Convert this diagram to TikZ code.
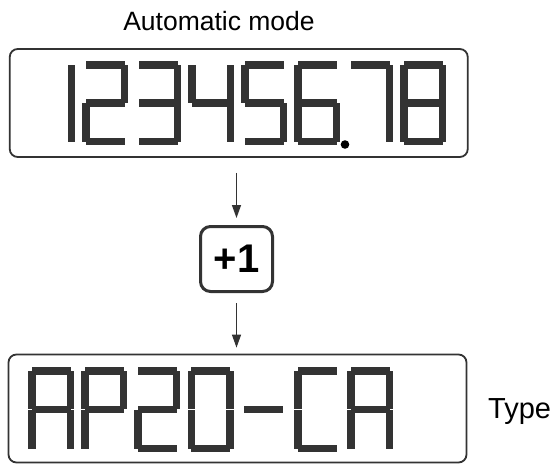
\documentclass[tikz,border=0pt]{standalone}
\usepackage{fontspec}
\setmainfont{Liberation Sans}
\usetikzlibrary{arrows.meta}
\definecolor{segc}{HTML}{333333}
\definecolor{linec}{HTML}{333333}
\newcommand{\sW}{46}
\newcommand{\sH}{84}
\newcommand{\st}{7.5}
\newcommand{\sn}{3.5}
\newcommand{\sgA}{\fill[segc] (\sn,0) rectangle ({\sW-\sn},\st);}
\newcommand{\sgB}{\fill[segc] ({\sW-\st},\sn) rectangle (\sW,{\sH/2-0.25});}
\newcommand{\sgC}{\fill[segc] ({\sW-\st},{\sH/2+0.25}) rectangle (\sW,{\sH-\sn});}
\newcommand{\sgD}{\fill[segc] (\sn,{\sH-\st}) rectangle ({\sW-\sn},\sH);}
\newcommand{\sgE}{\fill[segc] (0,{\sH/2+0.25}) rectangle (\st,{\sH-\sn});}
\newcommand{\sgF}{\fill[segc] (0,\sn) rectangle (\st,{\sH/2-0.25});}
\newcommand{\sgG}{\fill[segc] (\sn,{\sH/2-\st/2}) rectangle ({\sW-\sn},{\sH/2+\st/2});}
\newcommand{\digitat}[3]{\begin{scope}[shift={(#1,#2)}]#3\end{scope}}
\begin{document}
\begin{tikzpicture}[x=1pt,y=-1pt,
  disp/.style={draw=linec, line width=1.8pt, rounded corners=8pt, minimum width=458pt, minimum height=108pt, inner sep=0pt},
  plusbox/.style={draw=linec, line width=3pt, rounded corners=10pt, minimum width=72pt, minimum height=65pt, inner sep=0pt, font=\fontsize{40}{44}\selectfont\bfseries},
  arr/.style={draw=linec, line width=1.3pt, -{Triangle[width=9pt,length=13pt]}},
  lbl/.style={font=\fontsize{26.5}{30}\selectfont, inner sep=0pt}]
\useasboundingbox (0,0) rectangle (553,464);
\fill[white] (0,0) rectangle (553,464);

\node[lbl] (title) at (219,21) {Automatic mode};
\node[disp] (disp1) at (238.75,103) {};
\node[plusbox] (plus) at (236.5,259) {+1};
\node[disp] (disp2) at (237.5,408.5) {};
\node[lbl, anchor=west, font=\fontsize{29}{32}\selectfont] (type) at (488,412) {Type};

\draw[arr, shorten <=15pt, shorten >=7pt] (disp1.south -| plus.north) -- (plus.north);
\draw[arr, shorten <=10pt, shorten >=6pt] (plus.south) -- (disp2.north -| plus.south);

% top display 12345678
\digitat{29}{61}{\sgB\sgC}
\digitat{82}{61}{\sgA\sgB\sgG\sgE\sgD}
\digitat{135}{61}{\sgA\sgB\sgG\sgC\sgD}
\digitat{188}{61}{\sgF\sgG\sgB\sgC}
\digitat{241}{61}{\sgA\sgF\sgG\sgC\sgD}
\digitat{294}{61}{\sgA\sgF\sgG\sgE\sgC\sgD}
\digitat{347}{61}{\sgA\sgB\sgC}
\digitat{400}{61}{\sgA\sgB\sgC\sgD\sgE\sgF\sgG}
\fill[black] (345,144.5) circle (4.3);

% bottom display AP20-CA
\renewcommand{\sH}{85}
\digitat{28}{367}{\sgA\sgB\sgC\sgE\sgF\sgG}
\digitat{81.2}{367}{\sgA\sgB\sgE\sgF\sgG}
\digitat{134.4}{367}{\sgA\sgB\sgG\sgE\sgD}
\digitat{187.6}{367}{\sgA\sgB\sgC\sgD\sgE\sgF}
\digitat{240.8}{367}{\sgG}
\digitat{294}{367}{\sgA\sgD\sgE\sgF}
\digitat{347.2}{367}{\sgA\sgB\sgC\sgE\sgF\sgG}
\end{tikzpicture}
\end{document}
